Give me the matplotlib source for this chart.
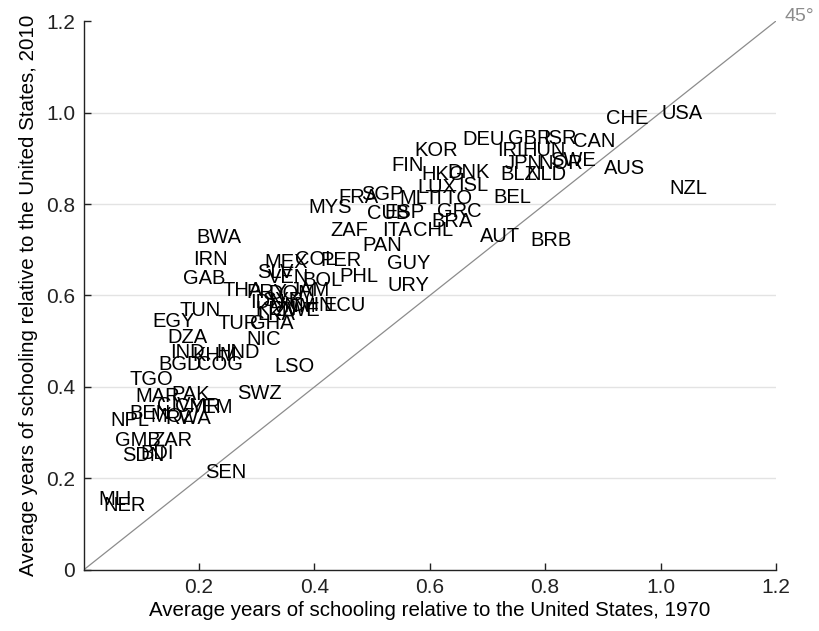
"""Schooling relative to the US: 1970 vs 2010, country codes as markers."""

import matplotlib
matplotlib.use("Agg")
import matplotlib.pyplot as plt
from matplotlib import font_manager

# --- Data ----------------------------------------------------------------

codes = [
    "USA", "CHE", "CAN", "AUS", "NZL", "DEU", "GBR", "ISR", "IRL", "HUN",
    "JPN", "NOR", "SWE", "BLZ", "NLD", "KOR", "FIN", "HKG", "DNK", "ISL",
    "LUX", "BEL", "AUT", "BRB", "MYS", "FRA", "SGP", "MLT", "TTO", "CUB",
    "ESP", "GRC", "BRA", "ZAF", "ITA", "CHL", "PAN", "GUY", "URY", "BWA",
    "IRN", "GAB", "MEX", "COL", "PER", "PHL", "SLV", "VEN", "BOL", "THA",
    "PRY", "DOM", "JAM", "IDN", "SYR", "VNM", "KEN", "ZWE", "CHN", "ECU",
    "LKA", "TUN", "TUR", "GHA", "NIC", "EGY", "DZA", "IND", "KHM", "HND",
    "BGD", "COG", "LSO", "TGO", "MAR", "PAK", "SWZ", "CIV", "CMR", "YEM",
    "BEN", "MOZ", "RWA", "NPL", "GMB", "ZAR", "SDN", "BDI", "MLI", "NER",
    "SEN",
]
school_1970 = [
    1.002, 0.905, 0.848, 0.902, 1.016, 0.656, 0.736, 0.796, 0.716, 0.761,
    0.730, 0.788, 0.808, 0.722, 0.768, 0.574, 0.534, 0.586, 0.630, 0.649,
    0.578, 0.710, 0.687, 0.774, 0.389, 0.441, 0.481, 0.548, 0.604, 0.491,
    0.522, 0.612, 0.602, 0.427, 0.517, 0.571, 0.484, 0.526, 0.527, 0.195,
    0.190, 0.172, 0.314, 0.366, 0.410, 0.444, 0.300, 0.320, 0.379, 0.240,
    0.283, 0.320, 0.358, 0.288, 0.309, 0.327, 0.297, 0.332, 0.358, 0.415,
    0.302, 0.167, 0.233, 0.288, 0.283, 0.120, 0.145, 0.150, 0.188, 0.231,
    0.129, 0.197, 0.330, 0.080, 0.089, 0.153, 0.266, 0.127, 0.159, 0.184,
    0.080, 0.115, 0.141, 0.046, 0.054, 0.119, 0.067, 0.098, 0.025, 0.034,
    0.210,
]
school_2010 = [
    0.998, 0.987, 0.936, 0.877, 0.834, 0.941, 0.943, 0.943, 0.917, 0.917,
    0.888, 0.888, 0.895, 0.864, 0.864, 0.917, 0.884, 0.864, 0.869, 0.840,
    0.836, 0.814, 0.729, 0.720, 0.792, 0.814, 0.821, 0.812, 0.812, 0.779,
    0.781, 0.784, 0.762, 0.742, 0.742, 0.742, 0.709, 0.670, 0.622, 0.727,
    0.679, 0.637, 0.672, 0.679, 0.677, 0.642, 0.650, 0.640, 0.633, 0.611,
    0.607, 0.605, 0.611, 0.585, 0.589, 0.576, 0.570, 0.567, 0.578, 0.578,
    0.558, 0.567, 0.539, 0.539, 0.504, 0.543, 0.509, 0.476, 0.469, 0.476,
    0.449, 0.449, 0.445, 0.417, 0.380, 0.384, 0.386, 0.360, 0.358, 0.356,
    0.343, 0.336, 0.331, 0.327, 0.284, 0.284, 0.251, 0.255, 0.153, 0.142,
    0.212,
]

x_ticks = [0.2, 0.4, 0.6, 0.8, 1.0, 1.2]
x_ticklabels = ["0.2", "0.4", "0.6", "0.8", "1.0", "1.2"]
y_ticks = [0, 0.2, 0.4, 0.6, 0.8, 1.0, 1.2]
y_ticklabels = ["0", "0.2", "0.4", "0.6", "0.8", "1.0", "1.2"]

# --- Fonts ---------------------------------------------------------------

installed = {f.name for f in font_manager.fontManager.ttflist}
FONT = "Liberation Sans" if "Liberation Sans" in installed else "DejaVu Sans"

fig = plt.figure(figsize=(8.19, 6.31), dpi=100)
ax = fig.add_axes([0.102, 0.0967, 0.8455, 0.87])
ax.set_xlim(0, 1.2)
ax.set_ylim(0, 1.2)

# light horizontal grid
for yv in y_ticks[1:-1]:
    ax.axhline(yv, color="#e3e3e3", linewidth=1.0, zorder=0)

# 45-degree reference line
ax.plot([0, 1.2], [0, 1.2], color="#8c8c8c", linewidth=0.9, zorder=1)
ax.text(1.214, 1.209, "45°", ha="left", va="center", fontsize=14,
        color="#8c8c8c", family=FONT, clip_on=False)

# country codes, left-aligned at the data point
for code, xv, yv in zip(codes, school_1970, school_2010):
    ax.text(xv, yv, code, ha="left", va="center", fontsize=14.5,
            family=FONT, color="black", zorder=3, clip_on=False)

for side in ("top", "right"):
    ax.spines[side].set_visible(False)
for side in ("left", "bottom"):
    ax.spines[side].set_linewidth(1.0)
    ax.spines[side].set_color("#222222")

ax.set_xticks(x_ticks)
ax.set_xticklabels(x_ticklabels, family=FONT, fontsize=15)
ax.set_yticks(y_ticks)
ax.set_yticklabels(y_ticklabels, family=FONT, fontsize=15)
ax.tick_params(direction="in", length=5, width=1, pad=6, colors="#222222")

ax.set_xlabel("Average years of schooling relative to the United States, 1970",
              family=FONT, fontsize=14.8, labelpad=3)
ax.set_ylabel("Average years of schooling relative to the United States, 2010",
              family=FONT, fontsize=14.8, labelpad=6)

fig.savefig("out.png", dpi=100)
